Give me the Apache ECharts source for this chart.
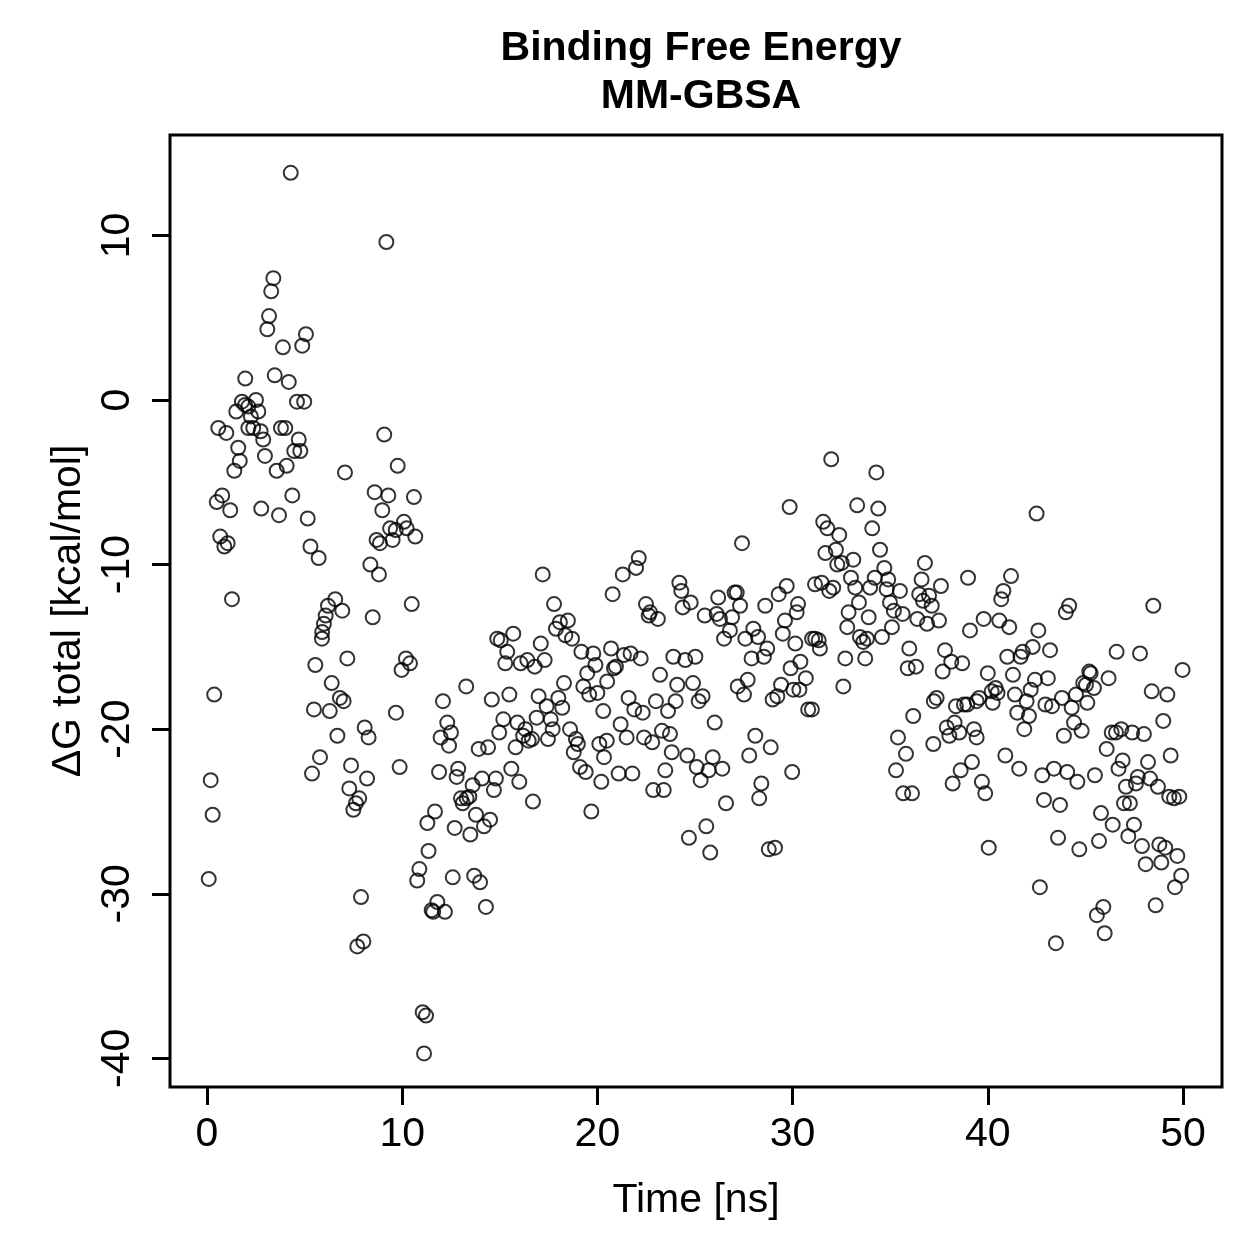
<!DOCTYPE html>
<html>
<head>
<meta charset="utf-8">
<title>Binding Free Energy MM-GBSA</title>
<script src="https://cdn.jsdelivr.net/npm/echarts@6/dist/echarts.min.js"></script>
<style>
  html, body { margin: 0; padding: 0; background: #fff; }
  #chart { width: 1259px; height: 1259px; }
</style>
</head>
<body>
<div id="chart"></div>
<script>
// time [ns] and dG total [kcal/mol]
const times = [
  0.09, 0.19, 0.29, 0.37, 0.50, 0.58, 0.68, 0.78, 0.89, 0.99, 1.06, 1.19, 1.28, 1.40, 1.50, 1.60, 1.68, 1.79, 1.95, 1.96,
  2.12, 2.12, 2.25, 2.37, 2.51, 2.63, 2.75, 2.78, 2.88, 2.97, 3.09, 3.18, 3.29, 3.40, 3.47, 3.57, 3.69, 3.79, 3.89, 4.01,
  4.08, 4.19, 4.29, 4.37, 4.47, 4.61, 4.70, 4.78, 4.88, 4.98, 5.07,
  5.16, 5.30, 5.55, 5.48, 5.38, 5.72, 5.79, 5.89, 5.90, 5.99, 6.08, 6.20, 6.29, 6.39, 6.57, 6.68, 6.81, 6.93, 7.00, 7.07,
  7.19, 7.29, 7.38, 7.50, 7.63, 7.70, 7.80, 7.89, 8.01, 8.08, 8.20, 8.28, 8.37, 8.49, 8.59, 8.69, 8.81, 8.86, 8.98, 9.08,
  9.19, 9.29, 9.38, 9.51, 9.67, 9.68, 9.77, 9.87, 9.97, 10.09, 10.19, 10.23, 10.40, 10.49, 10.60, 10.67, 10.77, 10.88, 11.05, 11.12,
  11.22, 11.29, 11.35,
  11.51, 11.59, 11.68, 11.80, 11.89, 11.97, 12.09, 12.19, 12.31, 12.40, 12.50, 12.59, 12.69, 12.79, 12.87, 13.01, 13.10, 13.28, 13.30, 13.44,
  13.49, 13.61, 13.69, 13.78, 13.92, 13.99, 14.09, 14.19, 14.29, 14.40, 14.50, 14.59, 14.70, 14.80, 14.87, 14.97, 15.05, 15.18, 15.28, 15.38,
  15.49, 15.59, 15.69, 15.81, 15.90, 16.00, 16.07, 16.20, 16.31, 16.41, 16.48, 16.65, 16.70, 16.79, 16.89, 16.99, 17.10, 17.20, 17.30, 17.40,
  17.47, 17.61, 17.71, 17.78, 17.88, 18.00, 18.08, 18.20, 18.29, 18.36, 18.49, 18.60, 18.70, 18.79, 18.90, 19.00, 19.11, 19.18, 19.28, 19.40,
  19.48, 19.58, 19.69, 19.79, 19.90, 20.00, 20.10, 20.20, 20.30, 20.34, 20.48, 20.50, 20.70, 20.78, 20.85, 20.95,
  21.09, 21.19, 21.30, 21.36, 21.50, 21.60, 21.70, 21.79, 21.89, 21.98, 22.12, 22.22, 22.32, 22.39, 22.49, 22.63, 22.70, 22.81, 22.86, 23.00,
  23.10, 23.21, 23.31, 23.40, 23.48, 23.62, 23.72, 23.81, 23.89, 24.01, 24.09, 24.20, 24.30, 24.37, 24.50, 24.61, 24.69, 24.78, 24.90, 25.02,
  25.09, 25.19, 25.29, 25.39, 25.50, 25.58, 25.70, 25.78, 25.91, 26.01, 26.11, 26.19, 26.28, 26.40, 26.49, 26.59, 26.79, 26.90, 27.03, 27.14,
  27.19, 27.31, 27.41, 27.51, 27.58, 27.70, 27.78, 27.90, 27.99, 28.09, 28.23, 28.29, 28.40, 28.53, 28.60, 28.70, 28.78, 28.88, 28.98, 29.10,
  29.22, 29.29, 29.41, 29.50, 29.61, 29.70, 29.85, 29.90, 29.98, 30.04, 30.14, 30.21, 30.28, 30.35, 30.40,
  30.68, 30.80, 30.99, 31.00, 31.15, 31.16, 31.34, 31.40, 31.49, 31.57, 31.68, 31.78, 31.88, 31.98, 32.08, 32.22, 32.29, 32.39, 32.52, 32.60,
  32.70, 32.80, 32.87, 32.99, 33.11, 33.21, 33.31, 33.40, 33.45, 33.62, 33.72, 33.81, 33.90, 33.97, 34.08, 34.21, 34.29, 34.39, 34.48, 34.58,
  34.70, 34.82, 34.90, 34.99, 35.09, 35.19, 35.30, 35.40, 35.50, 35.64, 35.67, 35.81, 35.90, 35.98, 36.12, 36.18, 36.32, 36.39, 36.49, 36.61,
  36.68, 36.78, 36.89, 36.99, 37.13, 37.21, 37.24, 37.38, 37.50, 37.60, 37.69, 37.81, 37.90, 38.03, 38.13, 38.20, 38.30, 38.37, 38.54, 38.61,
  38.69, 38.78, 38.95, 38.99, 39.09, 39.19, 39.29, 39.43, 39.43, 39.56, 39.70, 39.79, 39.87, 40.00, 40.05, 40.20, 40.25, 40.40, 40.50,
  40.59, 40.69, 40.80, 40.90, 41.00, 41.10, 41.19, 41.29, 41.39, 41.51, 41.61, 41.68, 41.79, 41.87, 41.99, 42.11, 42.20, 42.30, 42.42, 42.50,
  42.59, 42.67, 42.79, 42.88, 42.95, 43.08, 43.19, 43.29, 43.39, 43.49, 43.60, 43.70, 43.80, 43.90, 44.00, 44.07, 44.17, 44.30, 44.42, 44.52,
  44.59, 44.69, 44.81, 44.89, 45.03, 45.10, 45.20, 45.27, 45.44, 45.49, 45.59, 45.70, 45.80, 45.92, 45.99, 46.09, 46.19, 46.35, 46.40, 46.57,
  46.60, 46.70, 46.84, 46.91, 46.98, 47.08, 47.20, 47.28, 47.40, 47.49, 47.59, 47.69, 47.80, 47.90, 48.00, 48.09, 48.21, 48.31, 48.40, 48.48,
  48.60, 48.72, 48.79, 48.89, 48.99, 49.09, 49.20, 49.30, 49.37, 49.54, 49.59, 49.71, 49.81, 49.91, 49.98
];

const dG = [
  -29.1, -23.1, -25.2, -17.9, -6.2, -1.7, -8.3, -5.8, -8.9, -2.0, -8.7, -6.7, -12.1, -4.3, -0.7, -2.9, -3.7, -0.1, -0.3, 1.3,
  -0.4, -1.7, -1.0, -1.7, 0.0, -0.7, -1.9, -6.6, -2.4, -3.4, 4.3, 5.1, 6.6, 7.4, 1.5, -4.3, -7.0, -1.7, 3.2, -1.7,
  -4.0, 1.1, 13.8, -5.8, -3.1, -0.1, -2.4, -3.1, 3.3, -0.1, 4.0,
  -7.2, -8.9, -16.1, -18.8, -22.7, -9.6, -21.7, -14.5, -14.1, -13.6, -13.1, -12.5, -18.9, -17.2, -12.1, -20.4, -18.1, -12.8, -18.3, -4.4,
  -15.7, -23.6, -22.2, -24.9, -24.5, -33.2, -24.2, -30.2, -32.9, -19.9, -23.0, -20.5, -10.0, -13.2, -5.6, -8.5, -10.6, -8.7, -6.7, -2.1,
  9.6, -5.8, -7.8, -8.5, -7.9, -19.0, -4.0, -22.3, -16.4, -7.4, -15.7, -7.8, -16.0, -12.4, -5.9, -8.3, -29.2, -28.5, -37.2, -39.7,
  -37.4, -25.7, -27.4,
  -31.0, -31.1, -25.0, -30.5, -22.6, -20.5, -18.3, -31.1, -19.6, -21.0, -20.2, -29.0, -26.0, -22.9, -22.4, -24.2, -24.5, -17.4, -24.2, -24.1,
  -26.4, -23.4, -28.9, -25.2, -21.2, -29.3, -23.0, -25.9, -30.8, -21.1, -25.5, -18.2, -23.7, -23.0, -14.5, -20.2, -14.6, -19.4, -16.0, -15.3,
  -17.9, -22.4, -14.2, -21.1, -19.6, -23.2, -16.0, -20.4, -20.0, -15.8, -20.7, -20.6, -24.4, -16.2, -19.3, -18.0, -14.8, -10.6, -15.8, -18.6,
  -20.6, -19.4, -20.0, -12.4, -13.9, -18.1, -13.5, -18.7, -17.2, -14.3, -13.4, -20.0, -14.5, -21.4, -20.6, -20.9, -22.3, -15.3, -17.4, -22.6,
  -16.6, -17.9, -25.0, -15.4, -16.1, -17.8, -20.9, -23.2, -18.9, -21.7, -20.7, -17.1, -15.1, -11.8, -16.3, -16.2,
  -22.7, -19.7, -10.6, -15.5, -20.5, -18.1, -15.4, -22.7, -18.8, -10.2, -9.6, -15.7, -19.0, -20.5, -12.4, -13.1, -12.9, -20.8, -23.7, -18.3,
  -13.3, -16.7, -20.1, -23.7, -22.5, -18.9, -20.3, -21.4, -15.6, -18.3, -17.3, -11.1, -11.6, -12.6, -15.8, -21.6, -26.6, -12.3, -17.2, -15.6,
  -22.3, -18.3, -23.1, -18.0, -13.1, -25.9, -22.5, -27.5, -21.7, -19.6, -13.0, -12.0, -13.3, -22.4, -14.5, -24.5, -14.0, -13.2, -11.7, -11.7,
  -17.4, -12.5, -8.7, -17.9, -14.5, -17.0, -21.6, -15.7, -13.9, -20.4, -14.4, -24.2, -23.3, -15.6, -12.5, -15.1, -27.3, -21.1, -18.2, -27.2,
  -18.0, -11.8, -17.3, -14.2, -13.4, -11.3, -6.5, -16.3, -22.6, -17.6, -14.8, -12.9, -12.4, -17.6, -15.9,
  -16.9, -18.8, -18.8, -14.5, -11.2, -14.5, -14.6, -15.1, -11.1, -7.4, -9.3, -7.8, -11.6, -3.6, -11.4, -9.1, -10.0, -8.2, -9.9, -17.4,
  -15.7, -13.8, -12.9, -10.8, -9.7, -11.4, -6.4, -12.3, -14.4, -14.7, -15.7, -14.5, -13.2, -11.4, -7.8, -10.8, -4.4, -6.6, -9.1, -14.4,
  -10.2, -11.5, -10.9, -12.3, -13.8, -12.8, -22.5, -20.5, -11.6, -13.0, -23.9, -21.5, -16.3, -15.1, -23.9, -19.2, -16.2, -13.3, -11.8, -10.9,
  -12.2, -9.9, -13.6, -11.9, -12.5, -20.9, -18.3, -18.1, -13.4, -11.3, -16.5, -15.2, -19.9, -20.4, -15.9, -23.3, -19.6, -18.6, -20.2, -22.5,
  -16.0, -18.5, -18.5, -10.8, -14.0, -22.0, -20.0, -18.3, -20.5, -18.1, -23.2, -13.3, -23.9, -16.6, -27.2, -17.7, -18.4, -17.5, -17.8,
  -13.4, -12.1, -11.6, -21.6, -15.6, -13.8, -10.7, -16.7, -17.9, -19.0, -22.4, -15.6, -15.3, -20.0, -18.3, -19.2, -17.6, -15.0, -17.0, -6.9,
  -14.0, -29.6, -22.8, -24.3, -18.5, -16.9, -15.2, -18.6, -22.4, -33.0, -26.6, -24.6, -18.1, -20.4, -12.9, -22.6, -12.5, -18.7, -19.6, -17.9,
  -23.2, -27.3, -20.1, -17.2, -17.3, -18.4, -16.5, -16.6, -17.5, -22.8, -31.3, -26.8, -25.1, -30.8, -32.4, -21.2, -16.9, -20.2, -25.8, -20.2,
  -15.3, -22.4, -20.0, -21.9, -24.5, -23.5, -26.5, -24.5, -20.2, -25.8, -23.3, -22.9, -15.4, -27.1, -20.3, -28.2, -22.0, -23.0, -17.7, -12.5,
  -30.7, -23.5, -27.0, -28.1, -19.5, -27.2, -17.9, -24.1, -21.6, -24.2, -29.6, -27.7, -24.1, -28.9, -16.4
];

const xTicks = [0, 10, 20, 30, 40, 50];
const yTicks = [-40, -30, -20, -10, 0, 10];

const points = times.map((t, i) => [t, dG[i]]);

const font = 'Liberation Sans, Arial, Helvetica, sans-serif';
const chart = echarts.init(document.getElementById('chart'));

const option = {
  backgroundColor: '#fff',
  animation: false,
  title: {
    text: 'Binding Free Energy\nMM-GBSA',
    left: 696,
    top: 20,
    textAlign: 'center',
    textStyle: {
      color: '#000',
      fontFamily: font,
      fontSize: 41,
      fontWeight: 'bold',
      lineHeight: 48
    }
  },
  grid: {
    left: 170,
    top: 135,
    width: 1052,
    height: 952,
    show: true,
    borderColor: '#000',
    borderWidth: 3,
    backgroundColor: 'transparent'
  },
  xAxis: {
    type: 'value',
    min: -1.895,
    max: 52.0,
    name: 'Time [ns]',
    nameLocation: 'middle',
    nameGap: 93,
    nameTextStyle: { color: '#000', fontFamily: font, fontSize: 41 },
    axisLine: { show: false, onZero: false },
    splitLine: { show: false },
    axisTick: {
      show: true,
      length: 18,
      customValues: xTicks,
      lineStyle: { color: '#000', width: 3 }
    },
    axisLabel: {
      customValues: xTicks,
      color: '#000',
      fontFamily: font,
      fontSize: 41,
      margin: 27
    }
  },
  yAxis: {
    type: 'value',
    min: -41.74,
    max: 16.1,
    name: 'ΔG total [kcal/mol]',
    nameLocation: 'middle',
    nameGap: 75,
    nameTextStyle: { color: '#000', fontFamily: font, fontSize: 41 },
    axisLine: { show: false, onZero: false },
    splitLine: { show: false },
    axisTick: {
      show: true,
      length: 18,
      customValues: yTicks,
      lineStyle: { color: '#000', width: 3 }
    },
    axisLabel: {
      customValues: yTicks,
      rotate: 90,
      color: '#000',
      fontFamily: font,
      fontSize: 41,
      margin: 32
    }
  },
  series: [
    {
      type: 'scatter',
      data: points,
      symbol: 'circle',
      symbolSize: 14,
      itemStyle: {
        color: 'rgba(0,0,0,0)',
        borderColor: '#000',
        borderWidth: 2
      },
      emphasis: { disabled: true }
    }
  ]
};

chart.setOption(option);
window.addEventListener('resize', () => chart.resize());
</script>
</body>
</html>
